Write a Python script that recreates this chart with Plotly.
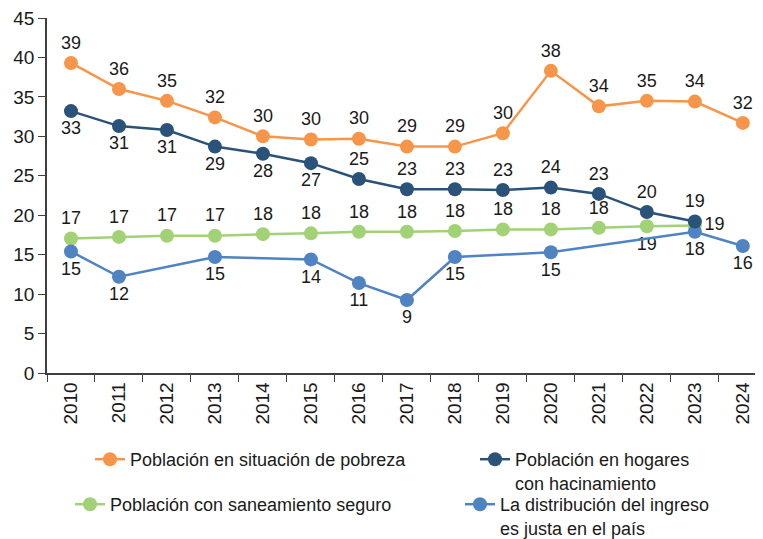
import plotly.graph_objects as go

years = [str(y) for y in range(2010, 2025)]

pobreza = [39.3, 36.0, 34.5, 32.4, 30.0, 29.6, 29.7, 28.7, 28.7, 30.4, 38.3, 33.8, 34.5, 34.4, 31.7]
hacinamiento = [33.2, 31.3, 30.8, 28.7, 27.8, 26.6, 24.6, 23.3, 23.3, 23.2, 23.5, 22.7, 20.4, 19.2, None]
saneamiento = [17.05, 17.25, 17.4, 17.4, 17.6, 17.7, 17.9, 17.9, 18.0, 18.2, 18.2, 18.4, 18.6, 18.7, None]
distribucion = [15.4, 12.2, None, 14.7, None, 14.4, 11.4, 9.25, 14.7, None, 15.3, None, None, 17.9, 16.1]

pos_pobreza = ["top center"] * 15
pos_hacin = ["bottom center"] * 6 + ["top center"] * 9
pos_san = ["top center"] * 12 + ["bottom center", "middle right", "top center"]
pos_dist = ["bottom center"] * 15

name_pobreza = "Población en situación de pobreza"
name_hacin = "Población en hogares<br>con hacinamiento"
name_san = "Población con saneamiento seguro"
name_dist = "La distribución del ingreso<br>es justa en el país"

col_pobreza = "#F7964A"
col_hacin = "#2B5279"
col_san = "#A2D276"
col_dist = "#4F83C2"

FONT = "Liberation Sans, Arial, sans-serif"
# the page body adds an 8px offset, so the figure is sized to the remaining space
W, H = 755, 531
OFF = 8

# drawing order: green below the blues, dark blue on top
series = [
    (pobreza, pos_pobreza, name_pobreza, col_pobreza, "legend"),
    (saneamiento, pos_san, name_san, col_san, "legend3"),
    (distribucion, pos_dist, name_dist, col_dist, "legend4"),
    (hacinamiento, pos_hacin, name_hacin, col_hacin, "legend2"),
]

fig = go.Figure()
for vals, pos, name, col, lg in series:
    xs = [y for y, v in zip(years, vals) if v is not None]
    ys = [v for v in vals if v is not None]
    ps = [p for p, v in zip(pos, vals) if v is not None]
    fig.add_trace(go.Scatter(
        x=xs, y=ys, name=name, mode="lines+markers+text", legend=lg,
        line=dict(color=col, width=2.5),
        marker=dict(color=col, size=14),
        texttemplate="%{y:.0f}", textposition=ps,
        textfont=dict(size=18, color="#1a1a1a", family=FONT),
        cliponaxis=False,
    ))


def leg(text_x, line_center_y):
    # screen position of the text start and of the first text line's centre
    lx = text_x - 40 - OFF
    top = line_center_y - 20 - OFF
    return dict(
        xref="container", yref="container",
        x=lx / W, y=1 - top / H, xanchor="left", yanchor="top",
        font=dict(size=18, family=FONT, color="#1a1a1a"),
        itemwidth=30, valign="top", bgcolor="rgba(0,0,0,0)",
    )


fig.update_layout(
    width=W, height=H,
    margin=dict(l=47 - OFF, r=0, t=18 - OFF, b=166, autoexpand=False),
    paper_bgcolor="white", plot_bgcolor="white",
    font=dict(family=FONT, size=19, color="#1a1a1a"),
    showlegend=True,
    legend=leg(130, 461),
    legend2=leg(515, 461),
    legend3=leg(110, 506),
    legend4=leg(500, 506),
    xaxis=dict(
        type="category", categoryorder="array", categoryarray=years,
        range=[-0.5, 14.42], showline=True, linecolor="#404040", linewidth=1.5,
        ticks="outside", tickson="boundaries", ticklen=7, tickcolor="#404040",
        tickangle=-90, tickfont=dict(size=19), showgrid=False,
        ticklabeloverflow="allow",
    ),
    yaxis=dict(
        range=[0, 45], dtick=5, showline=True, linecolor="#404040", linewidth=1.5,
        ticks="outside", ticklen=7, tickcolor="#404040", showgrid=False,
        zeroline=False, tickfont=dict(size=19), ticklabeloverflow="allow",
    ),
)

fig.write_html("out.html")
